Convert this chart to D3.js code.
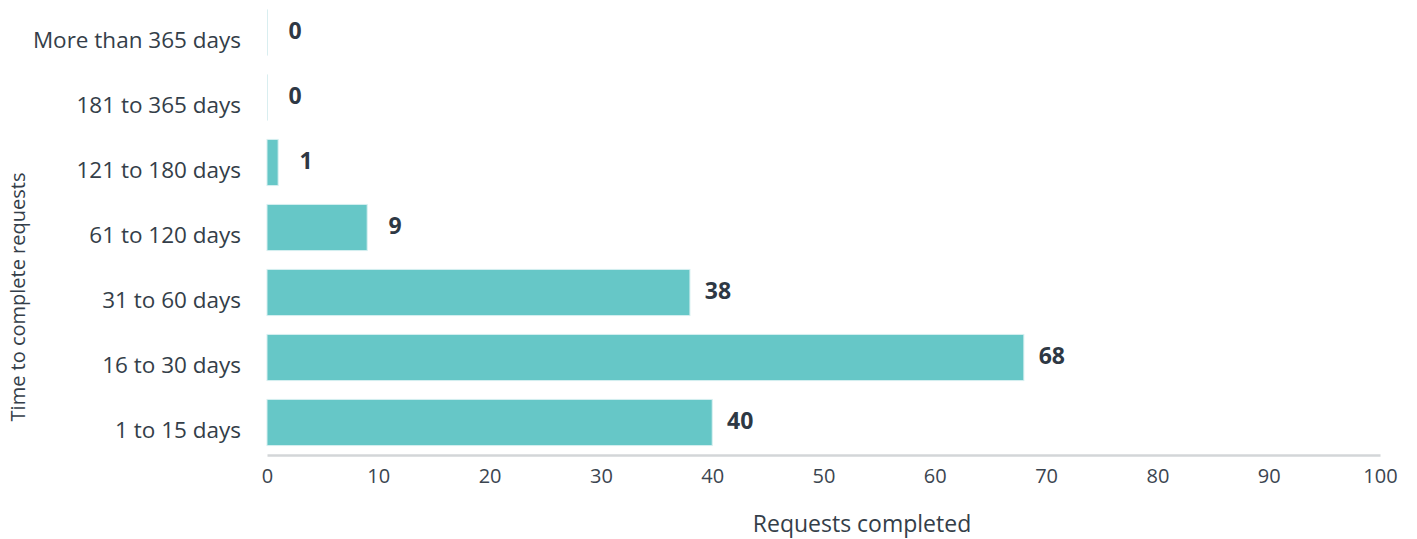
<!DOCTYPE html>
<html>
<head>
<meta charset="utf-8">
<script src="https://cdn.jsdelivr.net/npm/d3@7"></script>
<style>
  html, body { margin: 0; padding: 0; background: #ffffff; }
  svg { display: block; font-family: "Open Sans", sans-serif; }
</style>
</head>
<body>
<svg id="chart" width="1417" height="539"></svg>
<script>
// Time taken to complete requests, longest band first
const categories = [
  "More than 365 days",
  "181 to 365 days",
  "121 to 180 days",
  "61 to 120 days",
  "31 to 60 days",
  "16 to 30 days",
  "1 to 15 days"
];
const requests = [0, 0, 1, 9, 38, 68, 40];
const xTicks = [0, 10, 20, 30, 40, 50, 60, 70, 80, 90, 100];

const svg = d3.select("#chart");
const margin = { left: 267, right: 37, top: 0 };
const plotW = 1417 - margin.left - margin.right;
const plotBottom = 455;

const x = d3.scaleLinear().domain([0, 100]).range([0, plotW]);
const y = d3.scaleBand()
  .domain(categories)
  .range([0, plotBottom])
  .paddingInner(0.29)
  .paddingOuter(0.145);

const g = svg.append("g").attr("transform", `translate(${margin.left},${margin.top})`);

// Faint bar edge at zero so empty categories still show a hairline
g.selectAll("line.edge")
  .data(categories)
  .join("line")
  .attr("class", "edge")
  .attr("x1", 0.5).attr("x2", 0.5)
  .attr("y1", d => y(d))
  .attr("y2", d => y(d) + y.bandwidth())
  .attr("stroke", "#d9eef0")
  .attr("stroke-width", 1);

// Bars
g.selectAll("rect.bar")
  .data(categories)
  .join("rect")
  .attr("class", "bar")
  .attr("x", 0)
  .attr("y", d => y(d))
  .attr("width", (d, i) => x(requests[i]))
  .attr("height", y.bandwidth())
  .attr("fill", "#66c7c7")
  .attr("stroke", "#d6eff0")
  .attr("stroke-width", 1);

// Value labels
g.selectAll("text.value")
  .data(categories)
  .join("text")
  .attr("class", "value")
  .attr("x", (d, i) => x(requests[i]) + 28)
  .attr("y", d => y(d) + y.bandwidth() / 2 - 2)
  .attr("dy", "0.35em")
  .attr("text-anchor", "middle")
  .attr("font-size", 23)
  .attr("font-weight", 700)
  .attr("fill", "#2e3844")
  .text((d, i) => requests[i]);

// Category labels
const yAxis = g.append("g").call(d3.axisLeft(y).tickSize(0).tickPadding(26));
yAxis.select(".domain").remove();
yAxis.selectAll("text")
  .attr("font-size", 22.5)
  .attr("font-family", "Open Sans, sans-serif")
  .attr("fill", "#343e49")
  .attr("y", 8);

// X axis
const xAxis = g.append("g")
  .attr("transform", `translate(0,${plotBottom})`)
  .call(d3.axisBottom(x).tickValues(xTicks).tickSize(0).tickPadding(14));
xAxis.select(".domain").attr("stroke", "#d3d6d8").attr("stroke-width", 2.5);
xAxis.selectAll("text")
  .attr("font-size", 20)
  .attr("font-family", "Open Sans, sans-serif")
  .attr("fill", "#3b4550");

// Axis titles
svg.append("text")
  .attr("x", 862)
  .attr("y", 532)
  .attr("text-anchor", "middle")
  .attr("font-size", 23)
  .attr("fill", "#343e49")
  .text("Requests completed");

svg.append("text")
  .attr("transform", "translate(25,297) rotate(-90)")
  .attr("text-anchor", "middle")
  .attr("font-size", 20)
  .attr("fill", "#343e49")
  .text("Time to complete requests");
</script>
</body>
</html>
